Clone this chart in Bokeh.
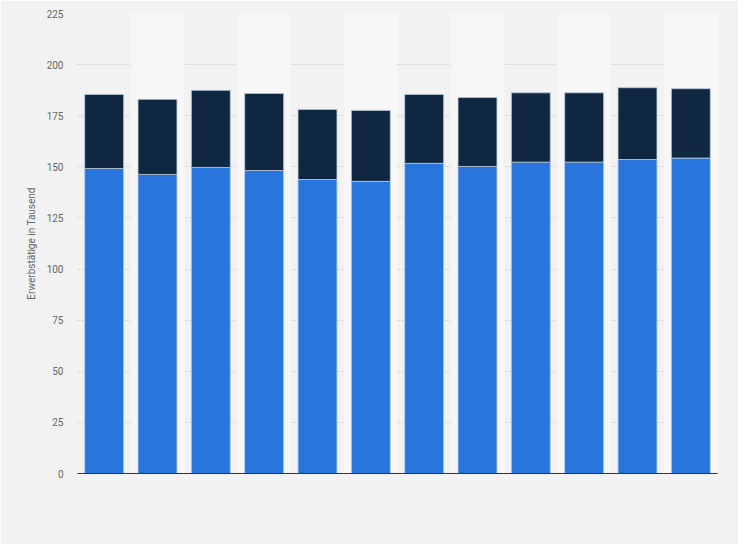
from bokeh.plotting import figure
from bokeh.models import ColumnDataSource, Range1d, FixedTicker
from bokeh.embed import file_html
from bokeh.resources import INLINE

years = ["2010", "2011", "2012", "2013", "2014", "2015",
         "2016", "2017", "2018", "2019", "2020", "2021"]
series_a = [149.2, 146.3, 149.7, 148.2, 143.8, 142.9,
            151.7, 150.2, 152.3, 152.3, 153.6, 154.3]
totals = [185.4, 183.0, 187.4, 185.9, 178.1, 177.6,
          185.4, 183.9, 186.2, 186.2, 188.7, 188.2]
series_b = [round(t - a, 1) for t, a in zip(totals, series_a)]
y_ticks = [0, 25, 50, 75, 100, 125, 150, 175, 200, 225]

src = ColumnDataSource(dict(x=years, a=series_a, b=series_b, tot=totals))
band_src = ColumnDataSource(dict(x=years[1::2], top=[225] * len(years[1::2])))

p = figure(x_range=years, y_range=Range1d(0, 225), width=738, height=544,
           output_backend="svg", toolbar_location=None,
           min_border_left=77, min_border_right=21, min_border_top=13,
           min_border_bottom=71)
p.x_range.range_padding = 0
p.background_fill_color = "#f2f2f2"
p.border_fill_color = "#f2f2f2"
p.outline_line_color = None

p.vbar(x="x", top="top", width=1.0, source=band_src, fill_color="#f7f7f7",
       line_color=None)

p.vbar_stack(["a", "b"], x="x", width=0.73, source=src,
             color=["#2876dd", "#0f2740"], line_color="#b8c8dc",
             line_width=1, line_alpha=0.8)

p.xgrid.grid_line_color = None
p.ygrid.grid_line_color = "#cfcfcf"
p.ygrid.grid_line_dash = "2 2"
p.ygrid.ticker = FixedTicker(ticks=y_ticks)

p.yaxis.ticker = FixedTicker(ticks=y_ticks)
p.yaxis.axis_line_color = None
p.yaxis.major_tick_line_color = None
p.yaxis.major_tick_out = 0
p.yaxis.major_tick_in = 0
p.yaxis.minor_tick_line_color = None
p.yaxis.major_label_text_color = "#666666"
p.yaxis.major_label_text_font = "Roboto"
p.yaxis.major_label_text_font_size = "10px"
p.yaxis.major_label_standoff = 14
p.yaxis.axis_label = "Erwerbstätige in Tausend"
p.yaxis.axis_label_text_font = "Roboto"
p.yaxis.axis_label_text_font_style = "normal"
p.yaxis.axis_label_text_font_size = "10px"
p.yaxis.axis_label_text_color = "#666666"
p.yaxis.axis_label_standoff = 7

p.xaxis.axis_line_color = "#333333"
p.xaxis.axis_line_width = 1
p.xaxis.major_tick_line_color = None
p.xaxis.major_tick_out = 0
p.xaxis.minor_tick_line_color = None
p.xaxis.major_label_text_font_size = "0px"
p.xaxis.major_label_text_color = None

open("out.html", "w").write(file_html(p, INLINE))
